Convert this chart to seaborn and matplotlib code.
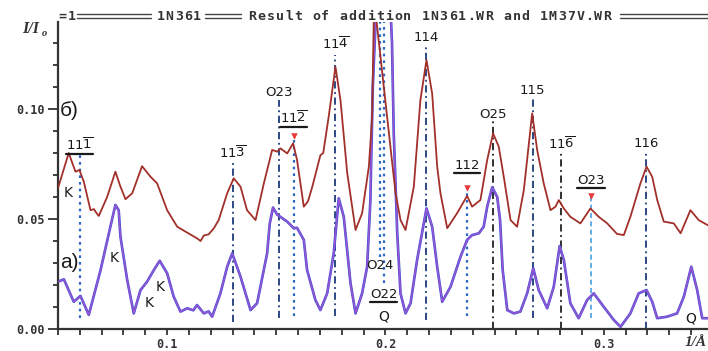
import numpy as np
import pandas as pd
import matplotlib
matplotlib.use("Agg")
import matplotlib.pyplot as plt
import seaborn as sns
from matplotlib.ticker import MultipleLocator, FixedLocator
from matplotlib.lines import Line2D

# ---------------- data ----------------
red_q = [0.050, 0.0549, 0.058, 0.0598, 0.0618, 0.0649, 0.0665, 0.0672, 0.0687, 0.0725,
         0.0763, 0.0785, 0.0809, 0.084, 0.0885, 0.0924, 0.0954, 0.100, 0.1046, 0.1092,
         0.1137, 0.1153, 0.1168, 0.119, 0.1214, 0.1236, 0.1275, 0.1305, 0.1336, 0.1366,
         0.1405, 0.1443, 0.1481, 0.1504, 0.1519, 0.155, 0.1577, 0.1595, 0.1626, 0.1645,
         0.1665, 0.1702, 0.1715, 0.174, 0.1771, 0.1794, 0.1825, 0.1863, 0.1893, 0.1924,
         0.1939, 0.1948, 0.199, 0.2025, 0.2046, 0.2069, 0.2092, 0.213, 0.216, 0.2188,
         0.2214, 0.2237, 0.2252, 0.2283, 0.2328, 0.2374, 0.2397, 0.2435, 0.2466, 0.2493,
         0.2519, 0.2542, 0.2573, 0.2603, 0.2634, 0.2672, 0.2695, 0.2725, 0.2756, 0.2779,
         0.2794, 0.2817, 0.2847, 0.2893, 0.2939, 0.2977, 0.3016, 0.3061, 0.3092, 0.3122,
         0.3168, 0.3196, 0.3222, 0.3245, 0.3275, 0.3321, 0.3352, 0.3397, 0.3435, 0.348]
red_i = [0.064, 0.080, 0.0715, 0.0723, 0.067, 0.054, 0.0545, 0.0533, 0.0514, 0.060,
         0.0715, 0.065, 0.059, 0.0617, 0.074, 0.0692, 0.0662, 0.054, 0.0465, 0.0438,
         0.0412, 0.040, 0.0425, 0.043, 0.0458, 0.0495, 0.0617, 0.0685, 0.0647, 0.054,
         0.0495, 0.0662, 0.0814, 0.0806, 0.0821, 0.0798, 0.0844, 0.0768, 0.0556, 0.058,
         0.0647, 0.079, 0.080, 0.0965, 0.1192, 0.104, 0.0708, 0.045, 0.0526, 0.0738,
         0.0965, 0.15, 0.22, 0.15, 0.062, 0.0495, 0.045, 0.0647, 0.104, 0.1223,
         0.107, 0.0738, 0.0617, 0.0458, 0.0526, 0.0605, 0.0556, 0.0586, 0.0768, 0.0889,
         0.0829, 0.0692, 0.0495, 0.0465, 0.0632, 0.098, 0.0814, 0.0662, 0.054, 0.0556,
         0.0586, 0.0548, 0.051, 0.048, 0.0548, 0.051, 0.048, 0.0432, 0.0427, 0.051,
         0.0662, 0.0738, 0.0692, 0.0586, 0.0488, 0.048, 0.0435, 0.054, 0.0495, 0.047]

violet_q = [0.050, 0.0527, 0.0572, 0.0603, 0.0641, 0.0695, 0.074, 0.0763, 0.0778, 0.0786,
            0.0817, 0.0847, 0.0878, 0.0908, 0.0939, 0.0966, 0.100, 0.103, 0.1061, 0.1092,
            0.112, 0.1137, 0.1168, 0.119, 0.1206, 0.1244, 0.1275, 0.1298, 0.1336, 0.1382,
            0.1412, 0.1458, 0.147, 0.1485, 0.1504, 0.155, 0.158, 0.1595, 0.1626, 0.1641,
            0.1679, 0.1702, 0.1733, 0.1763, 0.1786, 0.1809, 0.184, 0.1863, 0.1893, 0.1916,
            0.1931, 0.1942, 0.199, 0.203, 0.2038, 0.2054, 0.2069, 0.2092, 0.2115, 0.2145,
            0.2188, 0.2214, 0.2237, 0.226, 0.2298, 0.2344, 0.2374, 0.2397, 0.2428, 0.245,
            0.2466, 0.2489, 0.2512, 0.2525, 0.2537, 0.2558, 0.2588, 0.2618, 0.2649, 0.2677,
            0.2702, 0.2741, 0.2771, 0.2798, 0.2817, 0.2847, 0.2885, 0.2924, 0.2954, 0.300,
            0.3046, 0.3077, 0.3122, 0.316, 0.3196, 0.3222, 0.3245, 0.329, 0.3336, 0.3367,
            0.3401, 0.3428, 0.3451, 0.348]
violet_i = [0.0215, 0.0226, 0.0124, 0.015, 0.0064, 0.0268, 0.0465, 0.0564, 0.054, 0.042,
            0.0223, 0.0071, 0.0177, 0.0215, 0.0268, 0.031, 0.0253, 0.0147, 0.0079, 0.0094,
            0.0085, 0.0109, 0.0071, 0.008, 0.0056, 0.0162, 0.0283, 0.0344, 0.0238, 0.0086,
            0.0117, 0.0344, 0.048, 0.0552, 0.052, 0.0488, 0.0458, 0.046, 0.0405, 0.0268,
            0.0132, 0.0086, 0.0162, 0.0344, 0.0594, 0.051, 0.0208, 0.0071, 0.0162, 0.0283,
            0.0586, 0.11, 0.22, 0.13, 0.089, 0.0435, 0.0162, 0.0071, 0.0117, 0.0314,
            0.0548, 0.0465, 0.0283, 0.0124, 0.0192, 0.0329, 0.0405, 0.0427, 0.0435, 0.0465,
            0.0556, 0.0644, 0.060, 0.0495, 0.0268, 0.0086, 0.0071, 0.0079, 0.0162, 0.0276,
            0.0177, 0.0094, 0.0192, 0.0377, 0.0314, 0.0117, 0.0049, 0.0132, 0.0162, 0.0101,
            0.0041, 0.001, 0.0071, 0.0162, 0.0177, 0.0124, 0.0049, 0.0056, 0.0071, 0.0147,
            0.0283, 0.0177, 0.0049, 0.0049]

# indexed reflections (vertical marker lines)
refl_label = [r"$11\overline{1}$", r"$11\overline{3}$", "O23", r"$11\overline{2}$",
              r"$11\overline{4}$", "O24", "O22", "114", "112", "O25", "115",
              r"$11\overline{6}$", "O23", "116"]
refl_q = [0.0599, 0.1302, 0.1511, 0.158, 0.1771, 0.1974, 0.1992, 0.2188, 0.2374,
          0.2493, 0.2675, 0.2805, 0.2942, 0.3194]
refl_lo = [0.005, 0.003, 0.005, 0.006, 0.006, 0.0327, 0.021, 0.004, 0.006, 0.0,
           0.005, 0.0, 0.005, 0.0]
refl_hi = [0.080, 0.0768, 0.104, 0.0877, 0.1245, 0.1395, 0.1395, 0.129, 0.064, 0.095,
           0.1055, 0.081, 0.0605, 0.080]
refl_text_y = [0.0836, 0.080, 0.1077, 0.0961, 0.1295, 0.029, 0.0159, 0.1327, 0.0741,
               0.0977, 0.1086, 0.0841, 0.0677, 0.0841]
refl_kind = ["dot", "dd", "dd", "dot", "dd", "dot", "dot", "dd", "dot", "ddk", "dd",
             "ddk", "dash", "dd"]
refl_underlined = [True, False, False, True, False, False, True, False, True, False,
                   False, False, True, False]
refl_marked = [False, False, False, True, False, False, False, False, True, False,
               False, False, True, False]

# phase / panel annotations
note_text = ["K", "K", "K", "K", "Q", "Q", "б)", "а)"]
note_q = [0.0548, 0.0759, 0.0966, 0.0916, 0.1992, 0.3397, 0.0553, 0.0553]
note_i = [0.0618, 0.0323, 0.0192, 0.0118, 0.0055, 0.0050, 0.0995, 0.030]
note_size = [10, 10, 10, 10, 10, 10, 15, 15]

x_ticks = [0.1, 0.2, 0.3]
x_tick_labels = ["0.1", "0.2", "0.3"]
y_ticks = [0.00, 0.05, 0.10]
y_tick_labels = ["0.00", "0.05", "0.10"]

# ---------------- figure ----------------
sns.set_style("ticks")
plt.rcParams['font.family'] = ['DejaVu Sans']
plt.rcParams['mathtext.fontset'] = 'dejavusans'

W, H = 708, 351
fig = plt.figure(figsize=(W / 100, H / 100), dpi=100, facecolor="white")
ax = fig.add_axes([58 / W, 22 / H, 650 / W, 307 / H])
ax.set_facecolor("white")

df_red = pd.DataFrame({"q": red_q, "I": red_i})
df_vio = pd.DataFrame({"q": violet_q, "I": violet_i})

# vertical reflection lines
styles = {
    "dd": dict(color="#1d3a7a", ls=(0, (4, 2, 1, 2)), lw=1.3),
    "ddk": dict(color="#202020", ls=(0, (4, 2, 1, 2)), lw=1.3),
    "dot": dict(color="#2a68c4", ls=(0, (1.2, 1.8)), lw=1.6),
    "dash": dict(color="#4aa0e0", ls=(0, (3, 2)), lw=1.2),
}
for q, lo, hi, k in zip(refl_q, refl_lo, refl_hi, refl_kind):
    ax.vlines(q, lo, hi, zorder=1, **styles[k])

sns.lineplot(data=df_vio, x="q", y="I", ax=ax, color="#3a4fd8", lw=1.9, zorder=2)
sns.lineplot(data=df_vio, x="q", y="I", ax=ax, color="#9a55d2", lw=1.1, zorder=3)
sns.lineplot(data=df_red, x="q", y="I", ax=ax, color="#a2302a", lw=1.3, zorder=3)

mq = [q for q, m in zip(refl_q, refl_marked) if m]
mh = [h for h, m in zip(refl_hi, refl_marked) if m]
ax.scatter(mq, mh, marker="v", s=22, color="#e8393a", zorder=4, linewidths=0)

ax.set_xlim(0.05, 0.05 + 650 / 2183)
ax.set_ylim(0, 307 / 2200)
ax.set_xlabel("")
ax.set_ylabel("")

for s in ["top", "right"]:
    ax.spines[s].set_visible(False)
for s in ["left", "bottom"]:
    ax.spines[s].set_linewidth(1.6)
    ax.spines[s].set_color("#333333")

ax.xaxis.set_major_locator(FixedLocator(x_ticks))
ax.xaxis.set_minor_locator(MultipleLocator(0.01))
ax.set_xticklabels(x_tick_labels)
ax.yaxis.set_major_locator(FixedLocator(y_ticks))
ax.yaxis.set_minor_locator(MultipleLocator(0.01))
ax.set_yticklabels(y_tick_labels)
ax.tick_params(axis="x", which="both", direction="out", length=4.5, width=1.3,
               color="#333333", pad=2)
ax.tick_params(axis="y", which="major", direction="out", length=7.5, width=1.3,
               color="#333333", pad=2)
ax.tick_params(axis="y", which="minor", direction="out", length=3.8, width=1.3,
               color="#333333")
for lab in ax.get_xticklabels() + ax.get_yticklabels():
    lab.set_fontfamily("DejaVu Sans Mono")
    lab.set_fontweight("bold")
    lab.set_fontsize(8.5)
    lab.set_color("#333333")

# reflection labels
texts = []
for lab, q, ty in zip(refl_label, refl_q, refl_text_y):
    t = ax.text(q, ty, lab, ha="center", va="center", fontsize=9.5, color="#1a1a1a",
                zorder=5)
    texts.append(t)

for t, q, i, sz in zip(note_text, note_q, note_i, note_size):
    ax.text(q, i, t, ha="center", va="center", fontsize=sz, color="#1a1a1a",
            family="DejaVu Sans" if sz < 12 else "Liberation Sans", zorder=5)

# title line (pixel-like monospace text with double rules)
def place(s, x0, pitch=9.1, y=16):
    for k, ch in enumerate(s):
        if ch != " ":
            fig.text((x0 + pitch * (k + 0.5)) / W, 1 - y / H, ch, ha="center",
                     va="center", family="DejaVu Sans Mono", weight="bold",
                     size=9.5, color="#333333")

def rule(x0, x1):
    for yy in (14.3, 17.7):
        fig.add_artist(Line2D([x0 / W, x1 / W], [1 - yy / H, 1 - yy / H],
                              transform=fig.transFigure, color="#444444", lw=1.0))

place("=1", 58)
rule(77, 151)
place("1N361", 156)
rule(205, 241)
place("Result of addition 1N361.WR and 1M37V.WR", 248)
rule(620, 708)

# axis labels
fig.text(22 / W, 1 - 29 / H, "I/I", family="Liberation Serif", style="italic",
         weight="bold", size=11.5, va="center", ha="left", color="#333333")
fig.text(42 / W, 1 - 33 / H, "o", family="Liberation Serif", style="italic",
         weight="bold", size=7.5, va="center", ha="left", color="#333333")
fig.text(685 / W, 1 - 343 / H, "1/Å", family="Liberation Serif", style="italic",
         weight="bold", size=11, va="center", ha="left", color="#333333")

# underlines for marked reflection labels
fig.canvas.draw()
r = fig.canvas.get_renderer()
for t, u in zip(texts, refl_underlined):
    if u:
        bb = t.get_window_extent(r)
        yy = bb.y0 - 1.0
        fig.add_artist(Line2D([bb.x0 / W, bb.x1 / W], [yy / H, yy / H],
                              transform=fig.transFigure, color="#1a1a1a", lw=1.6))

fig.savefig("out.png", dpi=100, facecolor="white")
